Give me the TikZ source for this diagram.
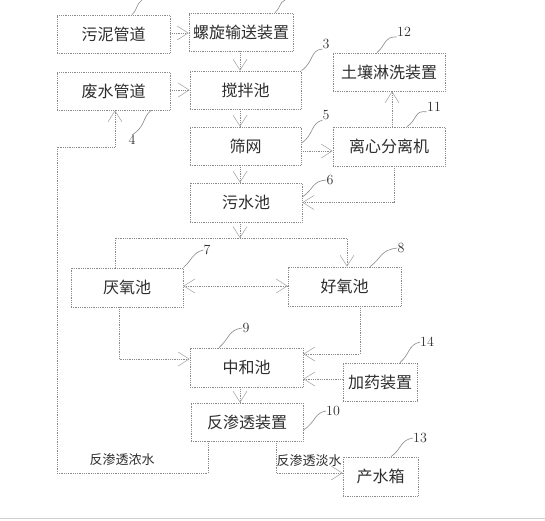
\documentclass[tikz,border=0pt]{standalone}
\usepackage{fontspec}
\newfontfamily\cjk{Noto Sans CJK SC}
\usetikzlibrary{arrows.meta}
\definecolor{ln}{HTML}{8A8A8A}
\definecolor{tip}{HTML}{A0A0A0}
\definecolor{tx}{HTML}{2E2E2E}
\definecolor{edge}{HTML}{D0D0D0}
\begin{document}
\begin{tikzpicture}[x=1pt,y=-1pt,
  box/.style={draw=ln, densely dotted, line width=0.8pt, rectangle, inner sep=0pt,
    font=\cjk\fontsize{16}{18}\selectfont, text=tx},
  arr/.style={draw=ln, densely dotted, line width=0.8pt,
    -{Straight Barb[length=11pt,width=14pt,line width=0.5pt,color=tip]}},
  darr/.style={draw=ln, densely dotted, line width=0.8pt,
    {Straight Barb[length=11pt,width=14pt,line width=0.5pt,color=tip]}-{Straight Barb[length=11pt,width=14pt,line width=0.5pt,color=tip]}},
  pipe/.style={draw=ln, densely dotted, line width=0.8pt},
  lead/.style={draw=ln, line width=0.6pt},
  num/.style={font=\fontsize{14}{16}\selectfont, text=tx, inner sep=0pt},
  lbl/.style={font=\cjk\fontsize{13}{15}\selectfont, text=tx, inner sep=0pt}]
\fill[white] (0,0) rectangle (545,520);
\useasboundingbox (0,0) rectangle (545,520);
\draw[edge, line width=1pt] (0,518.5) -- (545,518.5);

% boxes
\node[box, minimum width=113pt, minimum height=38pt] (A) at (113.5,34) {污泥管道};
\node[box, minimum width=104pt, minimum height=38pt] (B) at (241,32) {螺旋输送装置};
\node[box, minimum width=113pt, minimum height=38pt] (C) at (113.5,91) {废水管道};
\node[box, minimum width=111pt, minimum height=38pt] (D) at (245.5,90) {搅拌池};
\node[box, minimum width=112pt, minimum height=38pt] (E) at (389,72) {土壤淋洗装置};
\node[box, minimum width=111pt, minimum height=38pt] (F) at (245.5,146) {筛网};
\node[box, minimum width=112pt, minimum height=39pt] (G) at (389,146.5) {离心分离机};
\node[box, minimum width=112pt, minimum height=39pt] (H) at (246,202.5) {污水池};
\node[box, minimum width=112pt, minimum height=39pt] (I) at (127,287.5) {厌氧池};
\node[box, minimum width=113pt, minimum height=39pt] (J) at (344.5,286.5) {好氧池};
\node[box, minimum width=113pt, minimum height=39pt] (K) at (246.5,367.5) {中和池};
\node[box, minimum width=74pt, minimum height=38pt] (L) at (380,382) {加药装置};
\node[box, minimum width=112pt, minimum height=38pt] (M) at (247,422) {反渗透装置};
\node[box, minimum width=75pt, minimum height=39pt] (N) at (380.5,476.5) {产水箱};

% connectors
\draw[arr] (A.east |- 0,33) -- (B.west |- 0,33);
\draw[arr] (B.south -| 240,0) -- (D.north -| 240,0);
\draw[arr] (C.east |- 0,90) -- (D.west |- 0,90);
\draw[arr] (D.south -| 240,0) -- (F.north -| 240,0);
\draw[arr] (F.east |- 0,151) -- (G.west |- 0,151);
\draw[arr] (G.north -| 392,0) -- (E.south -| 392,0);
\draw[arr] (F.south -| 240,0) -- (H.north -| 240,0);
\draw[arr] (G.south -| 394,0) |- (H.east);
\coordinate (S) at (240,238);
\draw[arr] (H.south -| 240,0) -- (S);
\draw[pipe] (I.north -| 115,0) |- (S);
\draw[arr] (S) -| (J.north -| 347,0);
\draw[darr] (I.east |- 0,286) -- (J.west |- 0,286);
\draw[arr] (I.south -| 119,0) |- (K.west |- 0,359);
\draw[arr] (J.south -| 360,0) |- (K.east |- 0,354);
\draw[arr] (L.west |- 0,379) -- (K.east |- 0,379);
\draw[arr] (K.south -| 240,0) -- (M.north -| 240,0);
\draw[arr] (M.south -| 276,0) |- (N.west |- 0,473);
\coordinate (R1) at (208,473);
\coordinate (R2) at (57,147);
\draw[arr] (M.south -| 208,0) -- (R1) -| (R2) -| (C.south -| 115,0);

\node[lbl] (nl) at (122,460) {反渗透浓水};
\node[lbl] (dl) at (309,461) {反渗透淡水};

% numbers and leaders
\coordinate (t1) at (142,0);
\coordinate (t2) at (285,0);
\draw[lead] (A.north -| 132,0) .. controls (138,9) and (136,4) .. (t1);
\draw[lead] (B.north -| 275,0) .. controls (281,7) and (279,3) .. (t2);
\node[num] (n12) at (404,32) {12};
\draw[lead] (E.north -| 377,0) .. controls (387,44) and (383,37) .. (n12.south west);
\node[num] (n3) at (326,44) {3};
\draw[lead] (D.north east) .. controls (314,62) and (310,50) .. (n3.south west);
\node[num] (n11) at (434,107) {11};
\draw[lead] (G.north -| 407,0) .. controls (418,119) and (414,110) .. (n11.south west);
\node[num] (n5) at (326,115) {5};
\draw[lead] (F.east |- 0,143) .. controls (314,135) and (310,124) .. (n5.south west);
\node[num] (n4) at (132,140) {4};
\draw[lead] (C.south -| 151,0) .. controls (142,118) and (146,126) .. (n4.north);
\node[num] (n6) at (330,180) {6};
\draw[lead] (H.east |- 0,197) .. controls (314,189) and (312,181) .. (n6.west);
\node[num] (n7) at (207,250) {7};
\draw[lead] (I.north east) .. controls (193,259) and (192,253) .. (n7.west);
\node[num] (n8) at (401,248) {8};
\draw[lead] (J.north -| 370,0) .. controls (382,258) and (380,250) .. (n8.west);
\node[num] (n9) at (246,328) {9};
\draw[lead] (K.north -| 219,0) .. controls (230,338) and (228,330) .. (n9.west);
\node[num] (n14) at (427,342) {14};
\draw[lead] (L.north -| 400,0) .. controls (410,354) and (408,345) .. (n14.west);
\node[num] (n10) at (333,411) {10};
\draw[lead] (M.east |- 0,430) .. controls (316,422) and (314,413) .. (n10.west);
\node[num] (n13) at (420,438) {13};
\draw[lead] (N.north -| 391,0) .. controls (402,449) and (400,440) .. (n13.west);
\end{tikzpicture}
\end{document}
